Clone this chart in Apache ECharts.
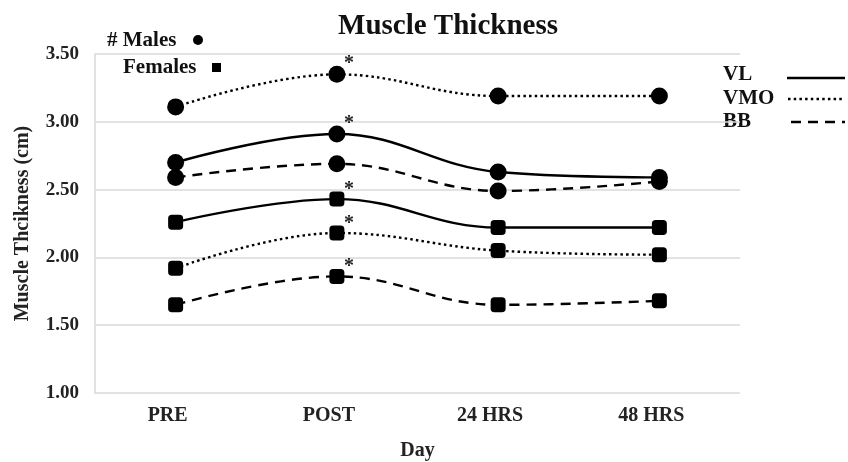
<!DOCTYPE html>
<html>
<head>
<meta charset="utf-8">
<script src="https://cdn.jsdelivr.net/npm/echarts@6/dist/echarts.min.js"></script>
<style>html,body{margin:0;padding:0;background:#fff}#c{width:848px;height:462px}</style>
</head>
<body>
<div id="c"></div>
<script>
const categories = ['PRE', 'POST', '24 HRS', '48 HRS'];
const yTicks = [1.0, 1.5, 2.0, 2.5, 3.0, 3.5];
const malesVL  = [2.70, 2.91, 2.63, 2.59];
const malesVMO = [3.11, 3.35, 3.19, 3.19];
const malesBB  = [2.59, 2.69, 2.49, 2.56];
const femalesVL  = [2.26, 2.43, 2.22, 2.22];
const femalesVMO = [1.92, 2.18, 2.05, 2.02];
const femalesBB  = [1.65, 1.86, 1.65, 1.68];
const sigMalesVL  = [0, 1, 0, 0];
const sigMalesVMO = [0, 1, 0, 0];
const sigMalesBB  = [0, 0, 0, 0];
const sigFemalesVL  = [0, 1, 0, 0];
const sigFemalesVMO = [0, 1, 0, 0];
const sigFemalesBB  = [0, 1, 0, 0];

const FONT = '"Liberation Serif","Times New Roman",serif';
const styles = {
  VL: 'solid',
  VMO: [2.5, 3.2],
  BB: [10, 7]
};

function mk(name, data, sig, muscle, male) {
  return {
    name: name,
    type: 'line',
    data: data,
    smooth: 0.4,
    symbol: male ? 'circle' : 'roundRect',
    symbolSize: male ? 17 : 15,
    itemStyle: { color: '#000' },
    lineStyle: { color: '#000', width: 2.4, type: styles[muscle] },
    label: {
      show: true,
      position: 'top',
      offset: [12, 13],
      formatter: p => sig[p.dataIndex] ? '*' : '',
      fontFamily: FONT,
      fontSize: 20,
      fontWeight: 'bold',
      color: '#222'
    },
    emphasis: { disabled: true },
    z: 3
  };
}

const chart = echarts.init(document.getElementById('c'), null, { renderer: 'canvas' });
const legFont = 'bold 21px ' + FONT;
function legText(t, x, y) {
  return { type: 'text', x: x, y: y, style: { text: t, font: legFont, fill: '#111', verticalAlign: 'middle', align: 'left' } };
}
chart.setOption({
  animation: false,
  title: {
    text: 'Muscle Thickness',
    left: 443, top: 7, textAlign: 'center',
    textStyle: { fontFamily: FONT, fontSize: 29, fontWeight: 'bold', color: '#111' }
  },
  grid: { left: 95, right: 108, top: 54, bottom: 69, containLabel: false, outerBoundsMode: 'none' },
  xAxis: {
    type: 'category',
    data: categories,
    boundaryGap: true,
    name: 'Day',
    nameLocation: 'middle',
    nameGap: 48,
    nameTextStyle: { fontFamily: FONT, fontSize: 20, fontWeight: 'bold', color: '#222' },
    axisLine: { show: false },
    axisTick: { show: false },
    axisLabel: { fontFamily: FONT, fontSize: 20, fontWeight: 'bold', color: '#222', margin: 13,
      padding: [0, 16, 0, 0] }
  },
  yAxis: {
    type: 'value',
    min: yTicks[0], max: yTicks[yTicks.length - 1], interval: 0.5,
    name: 'Muscle Thcikness (cm)',
    nameLocation: 'middle',
    nameGap: 62,
    nameTextStyle: { fontFamily: FONT, fontSize: 20, fontWeight: 'bold', color: '#222' },
    axisLine: { show: true, lineStyle: { color: '#d9d9d9', width: 1.5 } },
    axisTick: { show: false },
    splitLine: { lineStyle: { color: '#d9d9d9', width: 1.5 } },
    axisLabel: { fontFamily: FONT, fontSize: 19, fontWeight: 'bold', color: '#222', margin: 16,
      formatter: v => v.toFixed(2) }
  },
  series: [
    mk('Males VMO', malesVMO, sigMalesVMO, 'VMO', true),
    mk('Males VL', malesVL, sigMalesVL, 'VL', true),
    mk('Males BB', malesBB, sigMalesBB, 'BB', true),
    mk('Females VL', femalesVL, sigFemalesVL, 'VL', false),
    mk('Females VMO', femalesVMO, sigFemalesVMO, 'VMO', false),
    mk('Females BB', femalesBB, sigFemalesBB, 'BB', false)
  ],
  graphic: [
    legText('# Males', 107, 41),
    { type: 'circle', shape: { cx: 198, cy: 40, r: 5 }, style: { fill: '#000' } },
    legText('Females', 123, 68),
    { type: 'rect', shape: { x: 212, y: 63, width: 9, height: 9 }, style: { fill: '#000' } },
    legText('VL', 723, 75),
    { type: 'line', shape: { x1: 787, y1: 78, x2: 845, y2: 78 }, style: { stroke: '#000', lineWidth: 2.4 } },
    legText('VMO', 723, 99),
    { type: 'line', shape: { x1: 788, y1: 99, x2: 845, y2: 99 }, style: { stroke: '#000', lineWidth: 2.4, lineDash: [2.5, 3.2] } },
    legText('BB', 723, 122),
    { type: 'line', shape: { x1: 791, y1: 122, x2: 845, y2: 122 }, style: { stroke: '#000', lineWidth: 2.4, lineDash: [10, 7] } }
  ]
});
</script>
</body>
</html>
